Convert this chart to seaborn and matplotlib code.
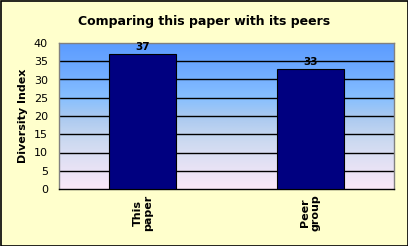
import numpy as np
import pandas as pd
import matplotlib
matplotlib.use("Agg")
import matplotlib.pyplot as plt
from matplotlib.colors import LinearSegmentedColormap
import seaborn as sns

categories = ["This\npaper", "Peer\ngroup"]
values = [37, 33]
yticks = [0, 5, 10, 15, 20, 25, 30, 35, 40]

sns.set_style("white")
plt.rcParams['font.family'] = ['DejaVu Sans']
plt.rcParams['text.color'] = 'black'
plt.rcParams['xtick.color'] = 'black'
plt.rcParams['ytick.color'] = 'black'
plt.rcParams['axes.labelcolor'] = 'black'

fig = plt.figure(figsize=(4.08, 2.46), dpi=100, facecolor="#FFFFCC")
ax = fig.add_axes([59/408, 1 - 189/246, (394-59)/408, (189-43)/246])

df = pd.DataFrame({"cat": categories, "val": values})

# gradient background
cmap = LinearSegmentedColormap.from_list(
    "bg",
    [(0.0, "#FAE8F8"), (0.2, "#E0E0F4"), (0.35, "#C8D8F0"), (0.5, "#A8C8F0"),
     (0.62, "#88C0FF"), (0.8, "#70ACFF"), (1.0, "#5C9CFF")])
grad = np.linspace(0, 1, 256).reshape(-1, 1)
ax.imshow(grad, aspect="auto", cmap=cmap, origin="lower",
          extent=(-0.5, 1.5, 0, 40), zorder=0)

sns.barplot(data=df, x="cat", y="val", color="#000080", width=0.4,
            edgecolor="black", linewidth=0.8, saturation=1, ax=ax, zorder=3)

ax.set_xlim(-0.5, 1.5)
ax.set_ylim(0, 40)
ax.set_yticks(yticks)
ax.set_yticklabels([str(t) for t in yticks], fontsize=8)
for t in yticks[1:-1]:
    ax.axhline(t, color="black", linewidth=1, zorder=1)

for i, v in enumerate(values):
    ax.text(i, v + 0.4, str(v), ha="center", va="bottom", fontsize=7.5,
            fontweight="bold", zorder=5)

ax.set_xlabel("")
ax.set_ylabel("Diversity Index", fontsize=8, fontweight="bold", labelpad=4)
ax.set_xticks([0, 1])
ax.set_xticklabels(categories, rotation=90, fontsize=8, fontweight="bold",
                   linespacing=1.0)
ax.tick_params(axis="x", length=0, pad=4)
ax.tick_params(axis="y", length=0, pad=8)
for s in ax.spines.values():
    s.set_color("#808080")
    s.set_linewidth(1)
ax.spines["bottom"].set_color("black")

fig.text(0.5, 1 - 22/246, "Comparing this paper with its peers", ha="center",
         va="center", fontsize=9, fontweight="bold")

border = plt.Rectangle((0.5/408, 0.5/246), 1 - 1/408, 1 - 1/246, transform=fig.transFigure,
                       fill=False, edgecolor="black", linewidth=1.2)
fig.patches.append(border)

fig.savefig("out.png", dpi=100, facecolor=fig.get_facecolor())
